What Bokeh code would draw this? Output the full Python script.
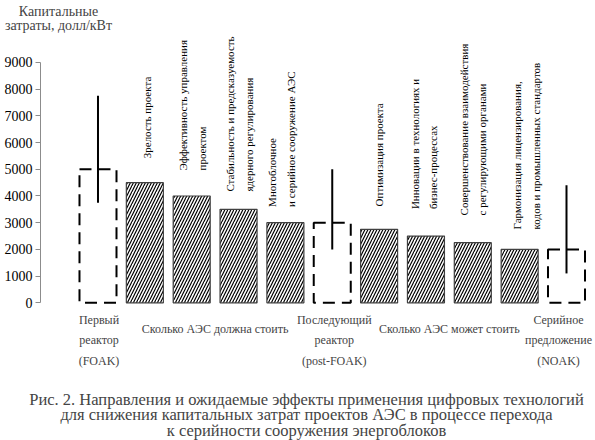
import math
from bokeh.plotting import figure
from bokeh.models import ColumnDataSource, FixedTicker, Label, LabelSet
from bokeh.embed import file_html
from bokeh.resources import INLINE

# капитальные затраты, долл/кВт
values = [5000, 4500, 4000, 3500, 3000, 3000, 2750, 2500, 2250, 2000, 2000]
is_ref = [True, False, False, False, False, True, False, False, False, False, True]

# разброс для реакторов FOAK / post-FOAK / NOAK
err_low = [3750, 2000, 1100]
err_high = [7750, 5000, 4400]

notes = [
    "",
    "Зрелость проекта",
    "Эффективность управления\nпроектом",
    "Стабильность и предсказуемость\nядерного регулирования",
    "Многоблочное\nи серийное сооружение АЭС",
    "",
    "Оптимизация проекта",
    "Инновации в технологиях и\nбизнес-процессах",
    "Совершенствование взаимодействия\nс регулирующими органами",
    "Гармонизация лицензирования,\nкодов и промышленных стандартов",
    "",
]
ref_names = ["Первый\nреактор\n(FOAK)",
             "Последующий\nреактор\n(post-FOAK)",
             "Серийное\nпредложение\n(NOAK)"]
group_names = ["Сколько АЭС должна стоить", "Сколько АЭС может стоить"]
y_ticks = [0, 1000, 2000, 3000, 4000, 5000, 6000, 7000, 8000, 9000]

# layout of the rotated notes (centre height, sideways shift in px)
note_y = [0, 6940, 7400, 7070, 6130, 0, 5540, 5950, 6490, 5870, 0]
note_dx = [0, 2, 1, 1, -4, 0, 0, -2, 0, 7, 0]

FONT = "Liberation Serif"
xs = list(range(len(values)))

hatched = ColumnDataSource(dict(
    x=[x for x, r in zip(xs, is_ref) if not r],
    top=[v for v, r in zip(values, is_ref) if not r]))
refs = ColumnDataSource(dict(
    x=[x for x, r in zip(xs, is_ref) if r],
    top=[v for v, r in zip(values, is_ref) if r],
    low=err_low, high=err_high))
note_src = ColumnDataSource(dict(
    x=[x for x, t in zip(xs, notes) if t],
    y=[y for y, t in zip(note_y, notes) if t],
    dx=[d for d, t in zip(note_dx, notes) if t],
    text=[t for t in notes if t]))

# frame fills the whole canvas, the y axis is pinned inside it
p = figure(width=595, height=440, x_range=(-2.081, 10.619), y_range=(-5157, 11321),
           x_axis_type=None, output_backend="svg", toolbar_location=None,
           min_border=0)
p.outline_line_color = None
p.grid.visible = False

p.vbar(x="x", top="top", width=0.79, source=hatched, fill_color="white",
       line_color="#404040", line_width=1.2, hatch_pattern="/", hatch_color="black",
       hatch_scale=6, hatch_weight=1.2)
p.vbar(x="x", top="top", width=0.79, source=refs, fill_color=None,
       line_color="black", line_width=2, line_dash="12 7")
p.segment(x0="x", y0="low", x1="x", y1="high", source=refs,
          line_color="black", line_width=2)

ax = p.yaxis[0]
ax.fixed_location = -1.227
ax.bounds = (0, 9000)
ax.ticker = FixedTicker(ticks=y_ticks)
ax.minor_tick_line_color = None
ax.major_tick_in = 0
ax.major_tick_out = 5
ax.axis_line_color = "#8c8c8c"
ax.major_tick_line_color = "#8c8c8c"
ax.major_label_standoff = 3
ax.major_label_text_font = FONT
ax.major_label_text_font_size = "14px"
ax.major_label_text_color = "black"

p.add_layout(LabelSet(x="x", y="y", text="text", source=note_src, x_offset="dx",
                      angle=math.pi / 2, text_align="center", text_baseline="middle",
                      text_font=FONT, text_font_size="11px", text_line_height=1.54,
                      text_color="black"))

for x, dx, name in zip([0, 5, 10], [1, 2, -8], ref_names):
    p.add_layout(Label(x=x, y=-1412, x_offset=dx, text=name, text_align="center",
                       text_baseline="middle", text_font=FONT,
                       text_font_size="12px", text_line_height=1.46))
for x, name in zip([2.5, 7.5], group_names):
    p.add_layout(Label(x=x, y=-1000, text=name, text_align="center",
                       text_baseline="middle", text_font=FONT,
                       text_font_size="12px"))

p.add_layout(Label(x=-0.843, y=10647, text="Капитальные\nзатраты, долл/кВт",
                   text_align="center", text_baseline="middle", text_font=FONT,
                   text_font_size="14px", text_line_height=0.97))

caption = ("Рис. 2. Направления и ожидаемые эффекты применения цифровых технологий\n"
           "для снижения капитальных затрат проектов АЭС в процессе перехода\n"
           "к серийности сооружения энергоблоков")
p.add_layout(Label(x=4.45, y=-4200, text=caption, text_align="center",
                   text_baseline="middle", text_font=FONT, text_font_size="16.5px",
                   text_line_height=0.82))

open("out.html", "w").write(file_html(p, INLINE))
